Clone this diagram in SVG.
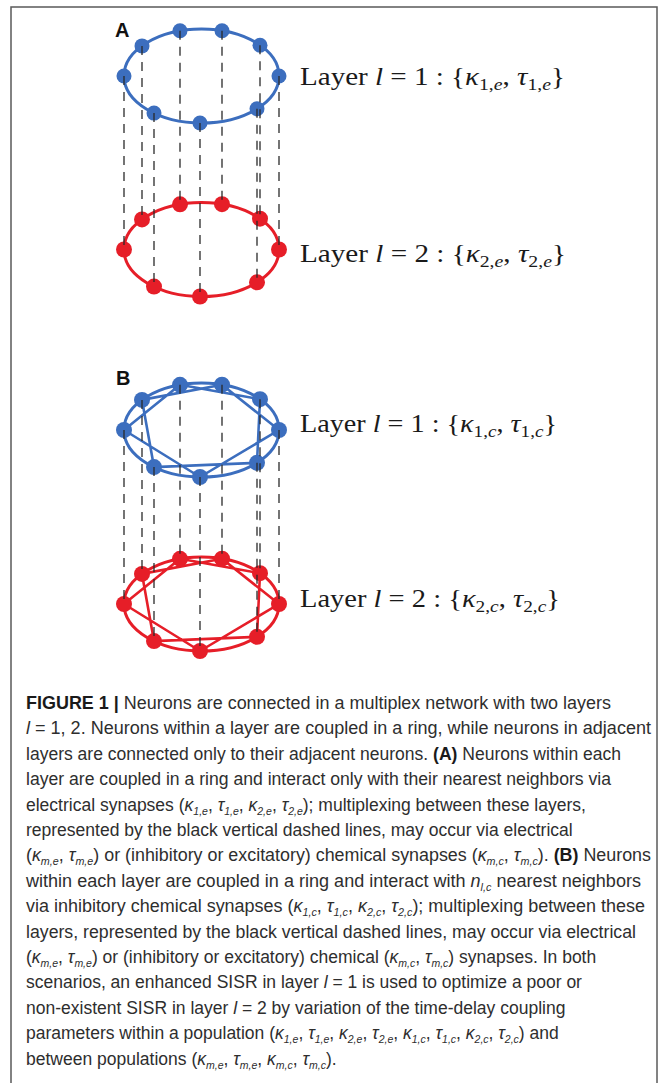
<svg xmlns="http://www.w3.org/2000/svg" width="667" height="1083" viewBox="0 0 667 1083">
<style>
.frame{fill:none;stroke:#5a5a5a;stroke-width:1.5}
.ringB{fill:none;stroke:#3c6ebe;stroke-width:3}
.ringR{fill:none;stroke:#e61e28;stroke-width:3}
.chB{stroke:#3c6ebe;stroke-width:2.6;fill:none}
.chR{stroke:#e61e28;stroke-width:2.6;fill:none}
.nB{fill:#3c6ebe}
.nR{fill:#e61e28}
.dash{stroke:#2a2a2a;stroke-width:1.3;stroke-dasharray:9 7;fill:none}
.lab{font-family:"Liberation Sans",Arial,sans-serif;font-weight:bold;font-size:20px;fill:#111}
.math{font-family:"Liberation Serif","Times New Roman",serif;font-size:25px;fill:#1a1a1a}
.ms{font-size:17px}
.cap{font-family:"Liberation Sans",Arial,sans-serif;font-size:17.5px;fill:#2e2e2e}
.b{font-weight:bold;fill:#1a1a1a}
.i{font-style:italic}
.s{font-size:10.5px;font-style:italic}
</style>
<rect class="frame" x="11" y="7" width="646" height="1095"/>
<text class="lab" x="115" y="37">A</text>
<text class="lab" x="116" y="385">B</text>
<g id="ring-edges">
<ellipse class="ringB" cx="201.5" cy="76" rx="77.5" ry="47"/>
<ellipse class="ringR" cx="201.5" cy="249.5" rx="77.5" ry="47"/>
<ellipse class="ringB" cx="201.5" cy="430" rx="77.5" ry="47"/>
<ellipse class="ringR" cx="201.5" cy="604" rx="77.5" ry="47"/>
<path class="chB" d="M180,384.8L260,399.2M222,384.7L279,430M260,399.2L257,462.8M279,430L200,477M257,462.8L154,467.1M200,477L124,430M154,467.1L142,399.9M124,430L180,384.8M142,399.9L222,384.7"/>
<path class="chR" d="M180,558.8L260,573.2M222,558.7L279,604M260,573.2L257,636.8M279,604L200,651M257,636.8L154,641.1M200,651L124,604M154,641.1L142,573.9M124,604L180,558.8M142,573.9L222,558.7"/>
</g>
<g id="layerA1">
<g id="a1-1"><circle class="nB" cx="180" cy="30.8" r="7.5"/></g>
<g id="a1-2"><circle class="nB" cx="222" cy="30.7" r="7.5"/></g>
<g id="a1-3"><circle class="nB" cx="260" cy="45.2" r="7.5"/></g>
<g id="a1-4"><circle class="nB" cx="279" cy="76" r="7.5"/></g>
<g id="a1-5"><circle class="nB" cx="257" cy="108.8" r="7.5"/></g>
<g id="a1-6"><circle class="nB" cx="200" cy="123" r="7.5"/></g>
<g id="a1-7"><circle class="nB" cx="154" cy="113.1" r="7.5"/></g>
<g id="a1-8"><circle class="nB" cx="124" cy="76" r="7.5"/></g>
<g id="a1-9"><circle class="nB" cx="142" cy="45.9" r="7.5"/></g>
</g>
<g id="layerA2">
<g id="a2-1"><circle class="nR" cx="180" cy="204.3" r="8"/></g>
<g id="a2-2"><circle class="nR" cx="222" cy="204.2" r="8"/></g>
<g id="a2-3"><circle class="nR" cx="260" cy="218.7" r="8"/></g>
<g id="a2-4"><circle class="nR" cx="279" cy="249.5" r="8"/></g>
<g id="a2-5"><circle class="nR" cx="257" cy="282.3" r="8"/></g>
<g id="a2-6"><circle class="nR" cx="200" cy="296.5" r="8"/></g>
<g id="a2-7"><circle class="nR" cx="154" cy="286.6" r="8"/></g>
<g id="a2-8"><circle class="nR" cx="124" cy="249.5" r="8"/></g>
<g id="a2-9"><circle class="nR" cx="142" cy="219.4" r="8"/></g>
</g>
<g id="layerB1">
<g id="b1-1"><circle class="nB" cx="180" cy="384.8" r="8"/></g>
<g id="b1-2"><circle class="nB" cx="222" cy="384.7" r="8"/></g>
<g id="b1-3"><circle class="nB" cx="260" cy="399.2" r="8"/></g>
<g id="b1-4"><circle class="nB" cx="279" cy="430" r="8"/></g>
<g id="b1-5"><circle class="nB" cx="257" cy="462.8" r="8"/></g>
<g id="b1-6"><circle class="nB" cx="200" cy="477" r="8"/></g>
<g id="b1-7"><circle class="nB" cx="154" cy="467.1" r="8"/></g>
<g id="b1-8"><circle class="nB" cx="124" cy="430" r="8"/></g>
<g id="b1-9"><circle class="nB" cx="142" cy="399.9" r="8"/></g>
</g>
<g id="layerB2">
<g id="b2-1"><circle class="nR" cx="180" cy="558.8" r="8"/></g>
<g id="b2-2"><circle class="nR" cx="222" cy="558.7" r="8"/></g>
<g id="b2-3"><circle class="nR" cx="260" cy="573.2" r="8"/></g>
<g id="b2-4"><circle class="nR" cx="279" cy="604" r="8"/></g>
<g id="b2-5"><circle class="nR" cx="257" cy="636.8" r="8"/></g>
<g id="b2-6"><circle class="nR" cx="200" cy="651" r="8"/></g>
<g id="b2-7"><circle class="nR" cx="154" cy="641.1" r="8"/></g>
<g id="b2-8"><circle class="nR" cx="124" cy="604" r="8"/></g>
<g id="b2-9"><circle class="nR" cx="142" cy="573.9" r="8"/></g>
</g>
<g id="connectors">
<path class="dash" d="M180,30.8V204.3M222,30.7V204.2M260,45.2V218.7M279,76V249.5M257,108.8V282.3M200,123V296.5M154,113.1V286.6M124,76V249.5M142,45.9V219.4"/>
<path class="dash" d="M180,384.8V558.8M222,384.7V558.7M260,399.2V573.2M279,430V604M257,462.8V636.8M200,477V651M154,467.1V641.1M124,430V604M142,399.9V573.9"/>
</g>
<g id="labels">
<text class="math" x="300" y="85" textLength="265" lengthAdjust="spacingAndGlyphs">Layer <tspan class="i">l</tspan> = 1 : {<tspan class="i">κ</tspan><tspan class="ms" dy="5">1,</tspan><tspan class="ms i">e</tspan><tspan dy="-5">, </tspan><tspan class="i">τ</tspan><tspan class="ms" dy="5">1,</tspan><tspan class="ms i">e</tspan><tspan dy="-5">}</tspan></text>
<text class="math" x="300" y="262" textLength="266" lengthAdjust="spacingAndGlyphs">Layer <tspan class="i">l</tspan> = 2 : {<tspan class="i">κ</tspan><tspan class="ms" dy="5">2,</tspan><tspan class="ms i">e</tspan><tspan dy="-5">, </tspan><tspan class="i">τ</tspan><tspan class="ms" dy="5">2,</tspan><tspan class="ms i">e</tspan><tspan dy="-5">}</tspan></text>
<text class="math" x="300" y="432" textLength="257" lengthAdjust="spacingAndGlyphs">Layer <tspan class="i">l</tspan> = 1 : {<tspan class="i">κ</tspan><tspan class="ms" dy="5">1,</tspan><tspan class="ms i">c</tspan><tspan dy="-5">, </tspan><tspan class="i">τ</tspan><tspan class="ms" dy="5">1,</tspan><tspan class="ms i">c</tspan><tspan dy="-5">}</tspan></text>
<text class="math" x="300" y="607" textLength="260" lengthAdjust="spacingAndGlyphs">Layer <tspan class="i">l</tspan> = 2 : {<tspan class="i">κ</tspan><tspan class="ms" dy="5">2,</tspan><tspan class="ms i">c</tspan><tspan dy="-5">, </tspan><tspan class="i">τ</tspan><tspan class="ms" dy="5">2,</tspan><tspan class="ms i">c</tspan><tspan dy="-5">}</tspan></text>
</g>
<g id="caption">
<text class="cap" x="26" y="709" textLength="585" lengthAdjust="spacingAndGlyphs"><tspan class="b">FIGURE 1 |</tspan> Neurons are connected in a multiplex network with two layers</text>
<text class="cap" x="26" y="734.4" textLength="625" lengthAdjust="spacingAndGlyphs"><tspan class="i">l</tspan> = 1, 2. Neurons within a layer are coupled in a ring, while neurons in adjacent</text>
<text class="cap" x="26" y="759.8" textLength="595" lengthAdjust="spacingAndGlyphs">layers are connected only to their adjacent neurons. <tspan class="b">(A)</tspan> Neurons within each</text>
<text class="cap" x="26" y="785.2" textLength="585" lengthAdjust="spacingAndGlyphs">layer are coupled in a ring and interact only with their nearest neighbors via</text>
<text class="cap" x="26" y="810.6">electrical synapses (<tspan class="i">κ</tspan><tspan class="s" dy="4">1,e</tspan><tspan dy="-4">, </tspan><tspan class="i">τ</tspan><tspan class="s" dy="4">1,e</tspan><tspan dy="-4">, </tspan><tspan class="i">κ</tspan><tspan class="s" dy="4">2,e</tspan><tspan dy="-4">, </tspan><tspan class="i">τ</tspan><tspan class="s" dy="4">2,e</tspan><tspan dy="-4">); multiplexing between these layers,</tspan></text>
<text class="cap" x="26" y="836">represented by the black vertical dashed lines, may occur via electrical</text>
<text class="cap" x="26" y="861.4" textLength="625" lengthAdjust="spacingAndGlyphs">(<tspan class="i">κ</tspan><tspan class="s" dy="4">m,e</tspan><tspan dy="-4">, </tspan><tspan class="i">τ</tspan><tspan class="s" dy="4">m,e</tspan><tspan dy="-4">) or (inhibitory or excitatory) chemical synapses (</tspan><tspan class="i">κ</tspan><tspan class="s" dy="4">m,c</tspan><tspan dy="-4">, </tspan><tspan class="i">τ</tspan><tspan class="s" dy="4">m,c</tspan><tspan dy="-4">). </tspan><tspan class="b">(B)</tspan> Neurons</text>
<text class="cap" x="26" y="886.8" textLength="615" lengthAdjust="spacingAndGlyphs">within each layer are coupled in a ring and interact with <tspan class="i">n</tspan><tspan class="s" dy="4">l,c</tspan><tspan dy="-4"> nearest neighbors</tspan></text>
<text class="cap" x="26" y="912.2" textLength="619" lengthAdjust="spacingAndGlyphs">via inhibitory chemical synapses (<tspan class="i">κ</tspan><tspan class="s" dy="4">1,c</tspan><tspan dy="-4">, </tspan><tspan class="i">τ</tspan><tspan class="s" dy="4">1,c</tspan><tspan dy="-4">, </tspan><tspan class="i">κ</tspan><tspan class="s" dy="4">2,c</tspan><tspan dy="-4">, </tspan><tspan class="i">τ</tspan><tspan class="s" dy="4">2,c</tspan><tspan dy="-4">); multiplexing between these</tspan></text>
<text class="cap" x="26" y="937.6" textLength="610" lengthAdjust="spacingAndGlyphs">layers, represented by the black vertical dashed lines, may occur via electrical</text>
<text class="cap" x="26" y="963">(<tspan class="i">κ</tspan><tspan class="s" dy="4">m,e</tspan><tspan dy="-4">, </tspan><tspan class="i">τ</tspan><tspan class="s" dy="4">m,e</tspan><tspan dy="-4">) or (inhibitory or excitatory) chemical (</tspan><tspan class="i">κ</tspan><tspan class="s" dy="4">m,c</tspan><tspan dy="-4">, </tspan><tspan class="i">τ</tspan><tspan class="s" dy="4">m,c</tspan><tspan dy="-4">) synapses. In both</tspan></text>
<text class="cap" x="26" y="988.4">scenarios, an enhanced SISR in layer <tspan class="i">l</tspan> = 1 is used to optimize a poor or</text>
<text class="cap" x="26" y="1013.8">non-existent SISR in layer <tspan class="i">l</tspan> = 2 by variation of the time-delay coupling</text>
<text class="cap" x="26" y="1039.2">parameters within a population (<tspan class="i">κ</tspan><tspan class="s" dy="4">1,e</tspan><tspan dy="-4">, </tspan><tspan class="i">τ</tspan><tspan class="s" dy="4">1,e</tspan><tspan dy="-4">, </tspan><tspan class="i">κ</tspan><tspan class="s" dy="4">2,e</tspan><tspan dy="-4">, </tspan><tspan class="i">τ</tspan><tspan class="s" dy="4">2,e</tspan><tspan dy="-4">, </tspan><tspan class="i">κ</tspan><tspan class="s" dy="4">1,c</tspan><tspan dy="-4">, </tspan><tspan class="i">τ</tspan><tspan class="s" dy="4">1,c</tspan><tspan dy="-4">, </tspan><tspan class="i">κ</tspan><tspan class="s" dy="4">2,c</tspan><tspan dy="-4">, </tspan><tspan class="i">τ</tspan><tspan class="s" dy="4">2,c</tspan><tspan dy="-4">) and</tspan></text>
<text class="cap" x="26" y="1064.6">between populations (<tspan class="i">κ</tspan><tspan class="s" dy="4">m,e</tspan><tspan dy="-4">, </tspan><tspan class="i">τ</tspan><tspan class="s" dy="4">m,e</tspan><tspan dy="-4">, </tspan><tspan class="i">κ</tspan><tspan class="s" dy="4">m,c</tspan><tspan dy="-4">, </tspan><tspan class="i">τ</tspan><tspan class="s" dy="4">m,c</tspan><tspan dy="-4">).</tspan></text>
</g>
</svg>
